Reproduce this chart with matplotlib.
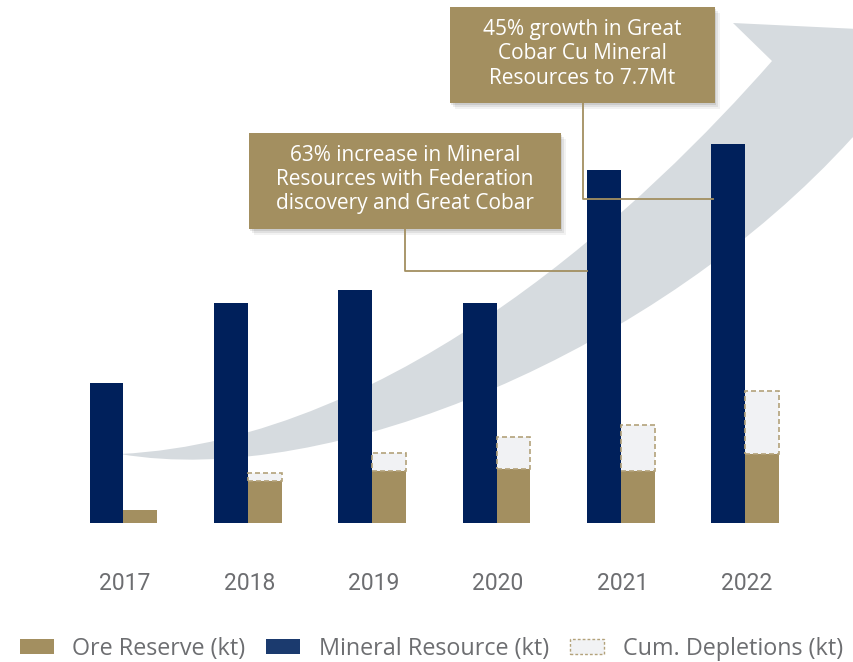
import numpy as np
import matplotlib.pyplot as plt
from matplotlib.patches import Rectangle, PathPatch, Patch
from matplotlib.path import Path

plt.rcParams['font.family'] = ['Roboto', 'DejaVu Sans']

years = ['2017', '2018', '2019', '2020', '2021', '2022']
mineral_resource = [279, 439, 465, 439, 705, 757]
ore_reserve = [25, 84, 103, 107, 103, 137]
cum_depletions = [0, 15, 37, 65, 93, 127]

note_left = '63% increase in Mineral\nResources with Federation\ndiscovery and Great Cobar'
note_right = '45% growth in Great\nCobar Cu Mineral\nResources to 7.7Mt'

NAVY = '#00205B'
GOLD = '#A38F60'
DEPL_FILL = '#F1F2F4'
DEPL_EDGE = '#B3A27A'
ARROW = '#D6DBDF'
GREY = '#6D6E71'

W, H = 854, 662
fig = plt.figure(figsize=(W / 100, H / 100), dpi=100)
ax = fig.add_axes([0, 0, 1, 1])
ax.set_axis_off()
ax.patch.set_alpha(0)


def px(x, y):
    # pixel (from top-left) -> figure fraction
    return (x / W, 1 - y / H)


# background growth arrow
C = Path.CURVE4
verts = [(120, 454), (330, 490), (660, 350), (852, 138),
         (900, 100), (900, 31), (733, 23), (772, 61),
         (650, 200), (400, 440), (120, 454), (120, 454)]
codes = [Path.MOVETO, C, C, C,
         Path.LINETO, Path.LINETO, Path.LINETO, Path.LINETO,
         C, C, C, Path.CLOSEPOLY]
arrow = Path([px(*v) for v in verts], codes)
ax.add_patch(PathPatch(arrow, facecolor=ARROW, edgecolor='none',
                       transform=fig.transFigure, zorder=1, clip_on=False))

x = np.arange(len(years))
w = 0.273
ax.bar(x - w / 2, mineral_resource, w, color=NAVY, zorder=3)
ax.bar(x + w / 2, ore_reserve, w, color=GOLD, zorder=3)
has_depl = np.array(cum_depletions) > 0
ax.bar(x[has_depl] + w / 2, np.array(cum_depletions)[has_depl], w,
       bottom=np.array(ore_reserve)[has_depl], facecolor=DEPL_FILL,
       edgecolor=DEPL_EDGE, linewidth=1.2, linestyle=(0, (3, 1.8)), zorder=3)

ax.set_xlim(-0.993, 5.875)
ax.set_ylim(-278.6, 1045.4)

for i, yr in enumerate(years):
    ax.text(i + 0.012, 1 - 584 / H, yr, transform=ax.get_xaxis_transform(),
            ha='center', va='center', fontsize=16.5, color=GREY)

# annotation boxes with leader lines
boxes = [((248.6, 133.3, 561, 229.3), note_left,
          [(404.8, 229.3), (404.8, 270.7), (587, 270.7)]),
         ((450, 7.3, 714.6, 103.3), note_right,
          [(582.6, 103.3), (582.6, 198.7), (712.6, 198.7)])]
for (x0, y0, x1, y1), txt, leader in boxes:
    for k, a in [(6, 0.05), (4, 0.07), (2, 0.09)]:
        fig.patches.append(Rectangle(px(x0 - 1 + k, y1 + k), (x1 - x0) / W, (y1 - y0) / H,
                                     transform=fig.transFigure, facecolor='#000000',
                                     alpha=a, edgecolor='none', zorder=4))
    fig.patches.append(Rectangle(px(x0, y1), (x1 - x0) / W, (y1 - y0) / H,
                                 transform=fig.transFigure, facecolor=GOLD,
                                 edgecolor='none', zorder=5))
    fig.text((x0 + x1) / 2 / W, 1 - ((y0 + y1) / 2 - 1.5) / H, txt, ha='center', va='center',
             color='white', fontsize=15, linespacing=1.2, zorder=6,
             family=['Open Sans', 'DejaVu Sans'])
    lx, ly = zip(*[px(*p) for p in leader])
    fig.add_artist(plt.Line2D(lx, ly, color=GOLD, lw=1.3, transform=fig.transFigure, zorder=6))

handles = [Patch(facecolor=GOLD, edgecolor='none'),
           Patch(facecolor='#1B3A6E', edgecolor='none'),
           Patch(facecolor=DEPL_FILL, edgecolor=DEPL_EDGE, linestyle=(0, (2, 1.5)), linewidth=1)]
labels = ['Ore Reserve (kt)', 'Mineral Resource (kt)', 'Cum. Depletions (kt)']
leg = fig.legend(handles, labels, loc='center', bbox_to_anchor=(0.505, 1 - 649 / H), ncol=3,
                 frameon=False, prop={'family': ['Open Sans', 'DejaVu Sans'], 'size': 16.8},
                 handlelength=1.45, handleheight=0.6,
                 handletextpad=0.8, columnspacing=0.9, borderpad=0, borderaxespad=0)
for t in leg.get_texts():
    t.set_color(GREY)

fig.savefig('out.png', dpi=100)
